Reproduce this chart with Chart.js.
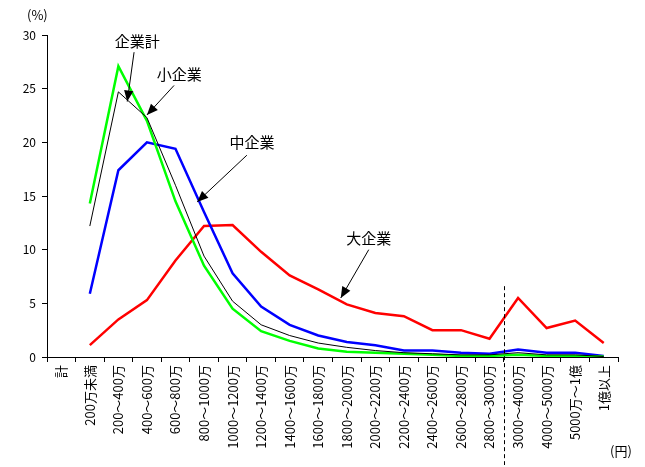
<!DOCTYPE html>
<html><head><meta charset="utf-8">
<script src="https://cdn.jsdelivr.net/npm/chart.js@4"></script>
<style>body{margin:0;background:#fff}#wrap{width:645px;height:467px}</style>
</head><body><div id="wrap"><canvas id="c"></canvas></div>
<script>
const categories = ['計','200万未満','200～400万','400～600万','600～800万','800～1000万','1000～1200万','1200～1400万','1400～1600万','1600～1800万','1800～2000万','2000～2200万','2200～2400万','2400～2600万','2600～2800万','2800～3000万','3000～4000万','4000～5000万','5000万～1億','1億以上'];
const totalVals  = [null,12.2,24.7,22.3,16.0,9.4,5.2,3.0,2.0,1.3,0.9,0.6,0.4,0.3,0.2,0.2,0.4,0.2,0.2,0.05];
const smallVals  = [null,14.3,27.1,22.0,14.5,8.5,4.5,2.4,1.5,0.8,0.5,0.4,0.3,0.2,0.1,0.1,0.2,0.1,0.1,0.05];
const mediumVals = [null,5.9,17.4,20.0,19.4,13.5,7.8,4.7,3.0,2.0,1.4,1.1,0.6,0.6,0.4,0.3,0.7,0.4,0.4,0.1];
const largeVals  = [null,1.1,3.5,5.3,9.0,12.2,12.3,9.8,7.6,6.3,4.9,4.1,3.8,2.5,2.5,1.7,5.5,2.7,3.4,1.3];
const yTicks = [0,5,10,15,20,25,30];
// label text, text position, arrow start, arrow end (category index, value)
const notes = [
  ['企業計', [2.66,29.4], [2.55,28.4], [2.31,23.8]],
  ['小企業', [4.13,26.3], [3.95,25.3], [3.0,22.55]],
  ['中企業', [6.68,20.0], [6.5,18.8], [4.76,14.45]],
  ['大企業', [10.77,11.1], [10.77,10.0], [9.79,5.5]]
];
const FONT = '"Noto Sans CJK JP", sans-serif';

const extras = {
  id: 'extras',
  afterDraw(chart) {
    const ctx = chart.ctx, x = chart.scales.x, y = chart.scales.y;
    const px = i => x.getPixelForValue(0) + i * (x.getPixelForValue(1) - x.getPixelForValue(0));
    ctx.save();
    ctx.fillStyle = '#000';
    // rotated category labels
    ctx.font = '13px ' + FONT;
    ctx.textAlign = 'right'; ctx.textBaseline = 'middle';
    categories.forEach((c, i) => {
      ctx.save();
      ctx.translate(px(i), y.bottom + 8);
      ctx.rotate(-Math.PI / 2);
      ctx.fillText(c, 0, 0);
      ctx.restore();
    });
    // dashed divider
    ctx.strokeStyle = '#000'; ctx.lineWidth = 1; ctx.setLineDash([4, 3]);
    const dx = Math.round(px(15.5)) + 0.5;
    ctx.beginPath(); ctx.moveTo(dx, y.getPixelForValue(6.6)); ctx.lineTo(dx, 465); ctx.stroke();
    ctx.setLineDash([]);
    // units
    ctx.font = '13px ' + FONT; ctx.textAlign = 'left'; ctx.textBaseline = 'middle';
    ctx.fillText('(%)', 27, 15);
    ctx.fillText('(円)', 610, 451);
    // annotations
    ctx.font = '15px ' + FONT; ctx.textAlign = 'center';
    notes.forEach(([t, p, a, b]) => {
      ctx.fillText(t, px(p[0]), y.getPixelForValue(p[1]));
      const x1 = px(a[0]), y1 = y.getPixelForValue(a[1]);
      const x2 = px(b[0]), y2 = y.getPixelForValue(b[1]);
      ctx.beginPath(); ctx.moveTo(x1, y1); ctx.lineTo(x2, y2); ctx.stroke();
      const ang = Math.atan2(y2 - y1, x2 - x1), L = 12, W = 0.4;
      ctx.beginPath();
      ctx.moveTo(x2, y2);
      ctx.lineTo(x2 - L * Math.cos(ang - W), y2 - L * Math.sin(ang - W));
      ctx.lineTo(x2 - L * Math.cos(ang + W), y2 - L * Math.sin(ang + W));
      ctx.closePath(); ctx.fill();
    });
    ctx.restore();
  }
};

const ds = (data, color, w) => ({ data, borderColor: color, borderWidth: w, pointRadius: 0, fill: false, tension: 0 });

new Chart(document.getElementById('c'), {
  type: 'line',
  data: {
    labels: categories,
    datasets: [
      ds(totalVals, '#000000', 1),
      ds(smallVals, '#00ff00', 2.5),
      ds(mediumVals, '#0000ff', 2.5),
      ds(largeVals, '#ff0000', 2.5)
    ]
  },
  options: {
    responsive: true, maintainAspectRatio: false, animation: false,
    layout: { padding: { top: 35, right: 27, left: 2, bottom: 0 } },
    plugins: { legend: { display: false }, tooltip: { enabled: false } },
    scales: {
      x: {
        offset: true,
        grid: { display: true, drawOnChartArea: false, offset: true, tickLength: 5, color: '#000' },
        border: { color: '#000' },
        ticks: { display: false },
        afterFit(s) { s.height = 110; }
      },
      y: {
        min: 0, max: 30,
        afterBuildTicks(s) { s.ticks = yTicks.map(v => ({ value: v })); },
        grid: { display: true, drawOnChartArea: false, tickLength: 5, color: '#000' },
        border: { color: '#000' },
        ticks: { color: '#000', font: { size: 12, family: FONT }, padding: 6 },
        afterFit(s) { s.width = 45; }
      }
    }
  },
  plugins: [extras]
});
</script>
</body></html>
